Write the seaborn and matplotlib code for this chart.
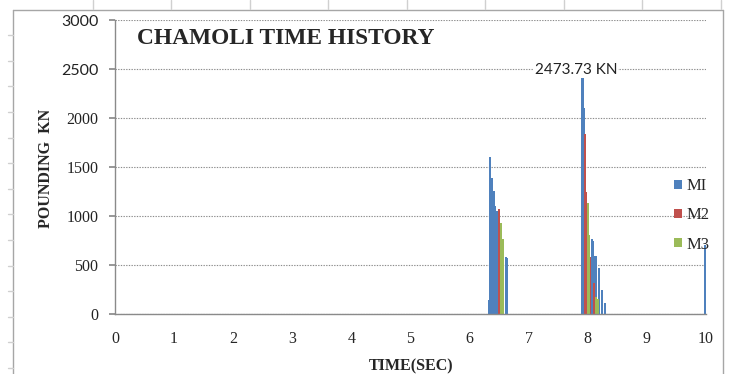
import matplotlib
matplotlib.use("Agg")
import matplotlib.pyplot as plt
from matplotlib.patches import Patch
from matplotlib.lines import Line2D
import pandas as pd
import seaborn as sns

# Pounding force time histories (kN) for the three models
m1_time = [6.33, 6.35, 6.37, 6.38, 6.41, 6.43, 6.47, 6.61, 6.63,
           7.91, 7.93, 8.07, 8.08, 8.13, 8.19, 8.24, 8.29, 9.98, 9.99]
m1_force = [143, 1599, 1385, 380, 1258, 1102, 1051, 578, 572,
            2473.73, 2100, 762, 740, 592, 469, 245, 112, 704, 380]
m2_time = [6.50, 6.51, 7.95, 7.97, 8.03, 8.04, 8.10]
m2_force = [1068, 840, 1837, 1248, 585, 469, 316]
m3_time = [6.53, 6.56, 8.00, 8.02, 8.14, 8.17]
m3_force = [932, 762, 1136, 806, 173, 150]

series_names = ["MI", "M2", "M3"]
series_colors = ["#4F81BD", "#C0504D", "#9BBB59"]
x_ticks = list(range(0, 11))
y_ticks = [0, 500, 1000, 1500, 2000, 2500, 3000]

frames = []
for name, t, f in zip(series_names, [m1_time, m2_time, m3_time],
                      [m1_force, m2_force, m3_force]):
    frames.append(pd.DataFrame({"time": t, "force": f, "model": name}))
df = pd.concat(frames, ignore_index=True)

sns.set_theme(style="white")
SERIF = "Liberation Serif"
SANS = "Lato"

W, H = 731, 374
fig = plt.figure(figsize=(W / 100, H / 100), dpi=100)
fig.patch.set_facecolor("white")


def fx(px):
    return px / W


def fy(py):
    return 1 - py / H


ax = fig.add_axes([fx(115), fy(314), fx(706) - fx(115), fy(20) - fy(314)])

sns.barplot(data=df, x="time", y="force", hue="model", hue_order=series_names,
            palette=series_colors, native_scale=True, dodge=False,
            errorbar=None, saturation=1, linewidth=0, width=3.6,
            legend=False, ax=ax)

ax.set_xlim(0, 10)
ax.set_ylim(0, 3000)
ax.set_xticks(x_ticks)
ax.set_xticklabels([str(v) for v in x_ticks], fontfamily=SERIF, fontsize=11.5)
ax.set_yticks(y_ticks)
ylabels = ax.set_yticklabels([str(v) for v in y_ticks], fontsize=11.5)
for lab, v in zip(ylabels, y_ticks):
    lab.set_fontfamily(SANS if v >= 2500 else SERIF)
    lab.set_color("#222222")

ax.yaxis.grid(True, linestyle=(0, (1.2, 1.2)), color="#8c8c8c", linewidth=0.8)
ax.xaxis.grid(False)
ax.set_axisbelow(True)
for side in ["top", "right"]:
    ax.spines[side].set_visible(False)
for side in ["left", "bottom"]:
    ax.spines[side].set_color("#8a8a8a")
    ax.spines[side].set_linewidth(1.0)
ax.tick_params(axis="y", length=4, color="#8a8a8a", pad=8, left=True)
ax.tick_params(axis="x", length=0, pad=12)

ax.set_xlabel("")
ax.set_ylabel("")
fig.text(fx(411), fy(366), "TIME(SEC)", fontfamily=SERIF, fontweight="bold",
         fontsize=11.5, ha="center", va="center")
fig.text(fx(46), fy(168), "POUNDING  KN", fontfamily=SERIF, fontweight="bold",
         fontsize=11.5, ha="center", va="center", rotation=90)
fig.text(fx(137), fy(38), "CHAMOLI TIME HISTORY", fontfamily=SERIF,
         fontweight="bold", fontsize=16.8, ha="left", va="center")

# Peak label
peak_i = max(range(len(m1_force)), key=lambda i: m1_force[i])
peak_t, peak_f = m1_time[peak_i], m1_force[peak_i]
ax.text(peak_t - 0.11, peak_f + 15, f"{peak_f:.2f} KN", fontfamily=SANS,
        fontsize=11, ha="center", va="center", color="#222222", zorder=5,
        bbox=dict(facecolor="white", edgecolor="none", pad=0.5))

# Legend
handles = [Patch(facecolor=c, edgecolor="none", label=n)
           for n, c in zip(series_names, series_colors)]
fig.legend(handles=handles, loc="upper left",
           bbox_to_anchor=(fx(674), fy(178)), frameon=False,
           prop=dict(family=SERIF, size=12), handlelength=0.45,
           handleheight=0.45, handletextpad=0.3, labelspacing=0.8,
           borderpad=0, borderaxespad=0)

# Chart border and surrounding sheet grid
border = "#a6a6a6"
fig.add_artist(Line2D([fx(13), fx(723)], [fy(10), fy(10)], color=border, lw=1))
fig.add_artist(Line2D([fx(13), fx(13)], [fy(10), 0], color=border, lw=1))
fig.add_artist(Line2D([fx(723), fx(723)], [fy(10), 0], color=border, lw=1))
for px in [92.5, 171, 249.5, 328, 406.5, 485, 563.5, 642, 720.5]:
    fig.add_artist(Line2D([fx(px), fx(px)], [1, fy(9)], color="#d0d0d0", lw=1))
for k in range(1, 15):
    py = 9.5 + 25.6 * k
    fig.add_artist(Line2D([fx(8), fx(13)], [fy(py), fy(py)], color="#d0d0d0", lw=1))

fig.savefig("out.png", dpi=100, facecolor="white")
